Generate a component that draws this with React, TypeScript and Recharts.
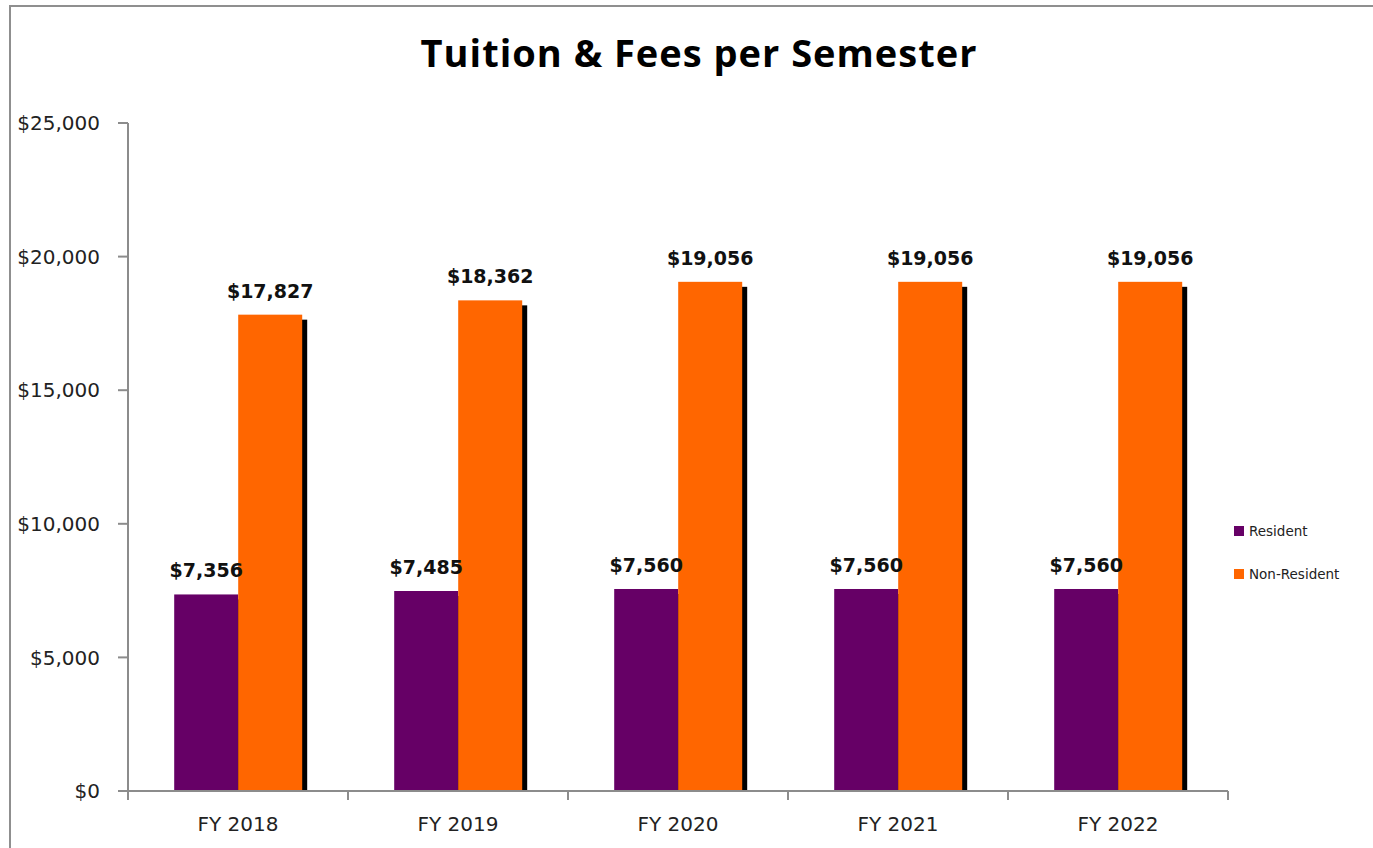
import React from 'react';
import { BarChart, Bar, XAxis, YAxis, LabelList } from 'recharts';

const categories = ['FY 2018', 'FY 2019', 'FY 2020', 'FY 2021', 'FY 2022'];
const residentValues = [7356, 7485, 7560, 7560, 7560];
const nonResidentValues = [17827, 18362, 19056, 19056, 19056];
const yTicks = [0, 5000, 10000, 15000, 20000, 25000];
const seriesNames = ['Resident', 'Non-Resident'];
const seriesColors = ['#660066', '#FF6600'];
const titleText = 'Tuition & Fees per Semester';

const data = categories.map((c, i) => ({
  name: c,
  resident: residentValues[i],
  nonResident: nonResidentValues[i],
}));

const fmt = (v: number) => '$' + Number(v).toLocaleString('en-US');

const ShadowBar = (props: any) => {
  const { x, y, width, height, fill } = props;
  if (!height || height <= 0) return null;
  return (
    <g>
      <rect x={x + 5} y={y + 5} width={width} height={height - 5} fill="#000" />
      <rect x={x} y={y} width={width} height={height} fill={fill} />
    </g>
  );
};

const XTick = (props: any) => {
  const { x, y, payload, index } = props;
  const half = payload && payload.offset ? payload.offset : 110;
  return (
    <g>
      <line x1={x - half} x2={x - half} y1={y} y2={y + 9} stroke="#8c8c8c" strokeWidth={2} />
      {index === categories.length - 1 && (
        <line x1={x + half} x2={x + half} y1={y} y2={y + 9} stroke="#8c8c8c" strokeWidth={2} />
      )}
      <text x={x} y={y + 40} textAnchor="middle" fontFamily="DejaVu Sans" fontSize={20} fill="#222">
        {payload.value}
      </text>
    </g>
  );
};

export default function App() {
  return (
    <div style={{ position: 'absolute', left: 0, top: 0, width: 1373, height: 848, overflow: 'hidden', background: '#fff' }}>
      <BarChart
        width={1373}
        height={848}
        data={data}
        margin={{ top: 123, right: 145, bottom: 0, left: 10 }}
        barCategoryGap="21%"
        barGap={0}
      >
        <XAxis
          dataKey="name"
          height={57}
          tickLine={false}
          tickSize={0}
          tickMargin={0}
          axisLine={{ stroke: '#8c8c8c', strokeWidth: 2 }}
          tick={<XTick />}
          interval={0}
        />
        <YAxis
          width={118}
          domain={[0, 25000]}
          ticks={yTicks}
          tickFormatter={fmt}
          tickSize={10}
          tickMargin={18}
          tickLine={{ stroke: '#8c8c8c', strokeWidth: 2 }}
          axisLine={{ stroke: '#8c8c8c', strokeWidth: 2 }}
          tick={{ fontFamily: 'DejaVu Sans', fontSize: 20, fill: '#222' }}
          allowDataOverflow
        />
        <Bar dataKey="resident" name={seriesNames[0]} fill={seriesColors[0]} shape={<ShadowBar />} isAnimationActive={false}>
          <LabelList dataKey="resident" position="top" offset={17} formatter={fmt as any}
            style={{ fontFamily: 'DejaVu Sans', fontWeight: 'bold', fontSize: 19, fill: '#111' }} />
        </Bar>
        <Bar dataKey="nonResident" name={seriesNames[1]} fill={seriesColors[1]} shape={<ShadowBar />} isAnimationActive={false}>
          <LabelList dataKey="nonResident" position="top" offset={17} formatter={fmt as any}
            style={{ fontFamily: 'DejaVu Sans', fontWeight: 'bold', fontSize: 19, fill: '#111' }} />
        </Bar>
      </BarChart>
      <svg width={1373} height={848} style={{ position: 'absolute', left: 0, top: 0, pointerEvents: 'none' }}>
        <line x1={10} x2={1373} y1={6} y2={6} stroke="#8f8f8f" strokeWidth={2} />
        <line x1={10} x2={10} y1={5} y2={848} stroke="#8f8f8f" strokeWidth={2} />
        <text x={699} y={67} textAnchor="middle" fontFamily="Open Sans" fontWeight="bold" fontSize={38} letterSpacing={1} fill="#000">
          {titleText}
        </text>
        {seriesNames.map((n, i) => (
          <g key={n}>
            <rect x={1234} y={526 + i * 43} width={10} height={10} fill={seriesColors[i]} />
            <text x={1249} y={536 + i * 43} fontFamily="DejaVu Sans" fontSize={13.5} fill="#222">{n}</text>
          </g>
        ))}
      </svg>
    </div>
  );
}
